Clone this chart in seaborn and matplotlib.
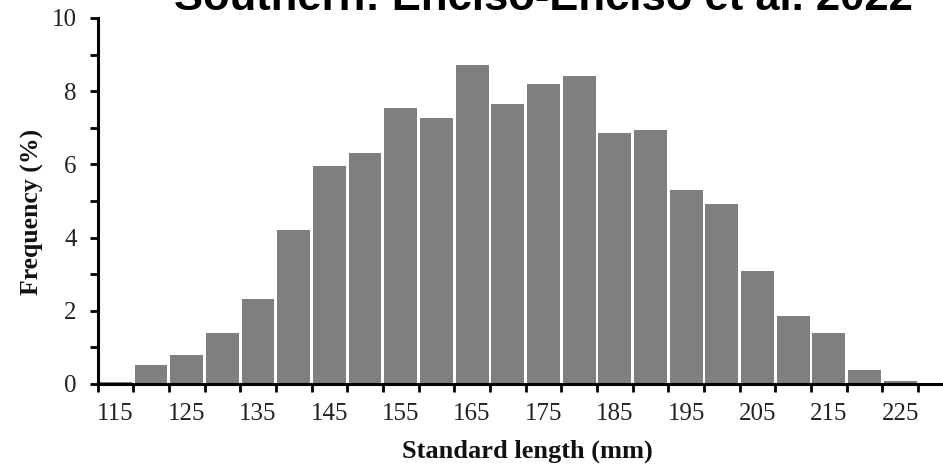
import numpy as np
import pandas as pd
import matplotlib
matplotlib.use("Agg")
import matplotlib.pyplot as plt
import seaborn as sns

# Standard-length classes (bin centres, mm) and their frequency (%)
length_mm = [115, 120, 125, 130, 135, 140, 145, 150, 155, 160, 165, 170,
             175, 180, 185, 190, 195, 200, 205, 210, 215, 220, 225]
frequency_pct = [0.05, 0.53, 0.80, 1.38, 2.32, 4.20, 5.95, 6.30, 7.55, 7.28,
                 8.72, 7.65, 8.20, 8.42, 6.87, 6.93, 5.30, 4.92, 3.10, 1.85,
                 1.38, 0.37, 0.07]
x_tick_labels = ["115", "125", "135", "145", "155", "165", "175", "185",
                 "195", "205", "215", "225"]
title_text = "Southern: Enciso-Enciso et al. 2022"

df = pd.DataFrame({"length": length_mm, "freq": frequency_pct})

sns.set_theme(style="ticks")
plt.rcParams["font.family"] = ["Liberation Serif", "DejaVu Serif"]

fig = plt.figure(figsize=(9.43, 4.66), dpi=100)
ax = fig.add_axes([0.1034, 0.176, 0.8966, 0.7854])

bin_w = 5
lo = length_mm[0] - bin_w / 2
hi = length_mm[-1] + bin_w / 2
sns.histplot(data=df, x="length", weights="freq", binwidth=bin_w,
             binrange=(lo, hi), color="#7f7f7f", edgecolor="none",
             linewidth=0, shrink=0.92, alpha=1.0, ax=ax)

ax.set_xlim(lo, 231)
ax.set_ylim(0, 10)

# x: ticks on the class boundaries, labels under every other class centre
edges = np.arange(lo, hi + 0.1, bin_w)
ax.set_xticks(edges)
ax.set_xticklabels([])
label_pos = [float(v) for v in x_tick_labels]
ax.set_xticks(label_pos, minor=True)
ax.set_xticklabels(x_tick_labels, minor=True)
ax.tick_params(axis="x", which="major", direction="out", length=6,
               width=2.0, color="black")
ax.tick_params(axis="x", which="minor", length=0, pad=14,
               labelsize=18, labelcolor="#222222")

# y: labelled even ticks, unlabelled odd ticks of equal length
ax.set_yticks(np.arange(0, 10.1, 2))
ax.set_yticklabels(["0", "2", "4", "6", "8", "10"])
ax.set_yticks(np.arange(1, 10, 2), minor=True)
ax.tick_params(axis="y", which="both", direction="out", length=6,
               width=2.0, color="black", pad=9)
ax.tick_params(axis="y", which="major", labelsize=18, labelcolor="#222222")

for side in ("top", "right"):
    ax.spines[side].set_visible(False)
for side in ("left", "bottom"):
    ax.spines[side].set_linewidth(2.2)
    ax.spines[side].set_color("black")

ax.set_xlabel("")
ax.set_ylabel("")
fig.text(0.5594, 0.0172, "Standard length (mm)", ha="center", va="baseline",
         fontsize=19, fontweight="bold", color="#111111")
fig.text(0.034, 0.545, "Frequency (%)", ha="center", va="center",
         rotation=90, fontsize=18.5, fontweight="bold", color="#111111")

fig.text(0.5764, 0.9785, title_text, ha="center", va="baseline",
         fontsize=31.3, fontweight="bold", color="black",
         family=["Liberation Sans", "DejaVu Sans"])

fig.savefig("out.png", dpi=100, facecolor="white")
